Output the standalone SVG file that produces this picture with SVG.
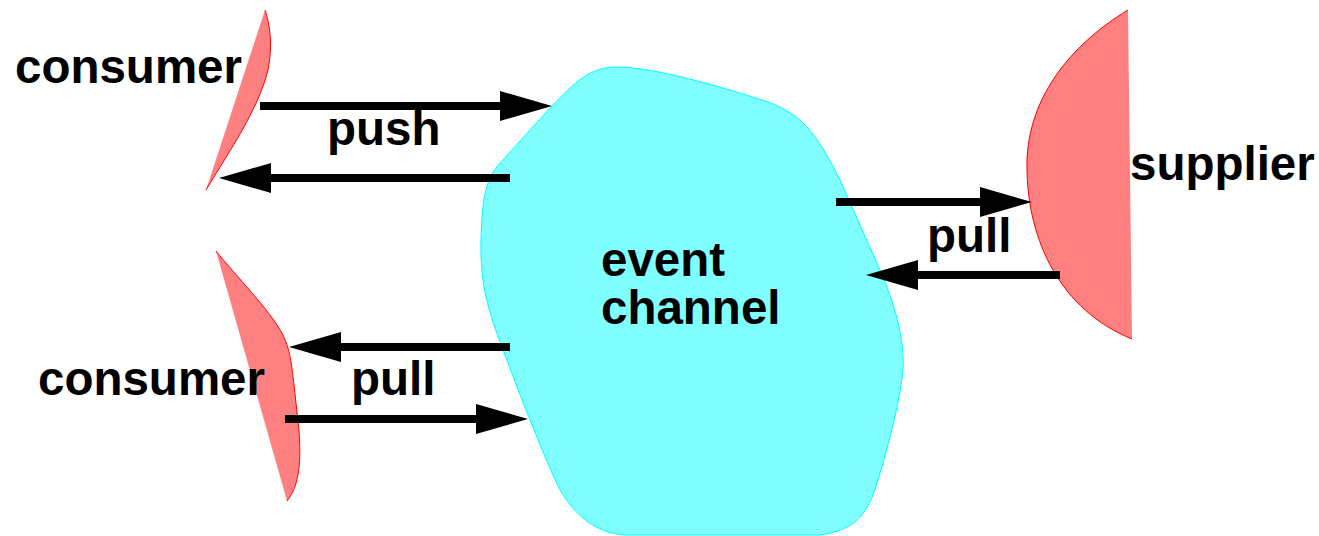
<svg xmlns="http://www.w3.org/2000/svg" width="1319" height="536" viewBox="0 0 1319 536">
<style>
.lbl{font-family:"Liberation Sans",Arial,sans-serif;font-weight:bold;font-size:47.5px;fill:#000}
.red{fill:#ff8080;stroke:none}
.redEdge{fill:none;stroke:#ff0000;stroke-width:1}
.conn{stroke:#000;stroke-width:8;fill:none;marker-end:url(#ah)}
</style>
<defs>
<marker id="ah" markerUnits="userSpaceOnUse" markerWidth="56" markerHeight="34" viewBox="0 -17 56 34" refX="1" refY="0" orient="auto">
<path d="M0,-15 L52,0 L0,15 Z" fill="#000"/>
</marker>
</defs>
<g id="event-channel">
<path d="M617,67 C655,67 725,88 765,101 C800,113 815,130 840,180 L880,270 C895,305 905,340 903,370 C900,400 890,440 878,480 C868,515 855,530 820,535 L625,535 C595,533 575,515 560,490 C545,460 520,395 503,350 C488,310 480,285 481,240 C482,200 485,180 500,163 L550,108 C575,82 590,67 617,67 Z" fill="#80ffff" stroke="#00ffff" stroke-width="1"/>
<text class="lbl" x="601" y="276">event</text>
<text class="lbl" x="601" y="324">channel</text>
</g>
<g id="consumer-top">
<path class="red" d="M265,10 C270,25 273,45 268,70 C258,110 230,150 206,190 Z"/>
<path class="redEdge" d="M265,10 C270,25 273,45 268,70 C258,110 230,150 206,190"/>
<text class="lbl" x="15" y="83">consumer</text>
</g>
<g id="consumer-bottom">
<path class="red" d="M216,251 C235,275 270,310 283,335 C290,350 291,360 294,385 L299,430 C301,460 300,485 287,501 Z"/>
<path class="redEdge" d="M216,251 C235,275 270,310 283,335 C290,350 291,360 294,385 L299,430 C301,460 300,485 287,501"/>
<text class="lbl" x="38" y="395">consumer</text>
</g>
<g id="supplier">
<path class="red" d="M1128,10 C1070,45 1025,100 1027,170 C1028,240 1060,310 1132,339 Z"/>
<path class="redEdge" d="M1128,10 C1070,45 1025,100 1027,170 C1028,240 1060,310 1132,339"/>
<text class="lbl" x="1130" y="180">supplier</text>
</g>
<g id="connectors">
<path class="conn" d="M260,106 H501"/>
<path class="conn" d="M510,178 H270"/>
<text class="lbl" x="327" y="145">push</text>
<path class="conn" d="M836,202 H981"/>
<path class="conn" d="M1060,275 H917"/>
<text class="lbl" x="927" y="252">pull</text>
<path class="conn" d="M510,347 H340"/>
<path class="conn" d="M285,419 H477"/>
<text class="lbl" x="351" y="395">pull</text>
</g>
</svg>
